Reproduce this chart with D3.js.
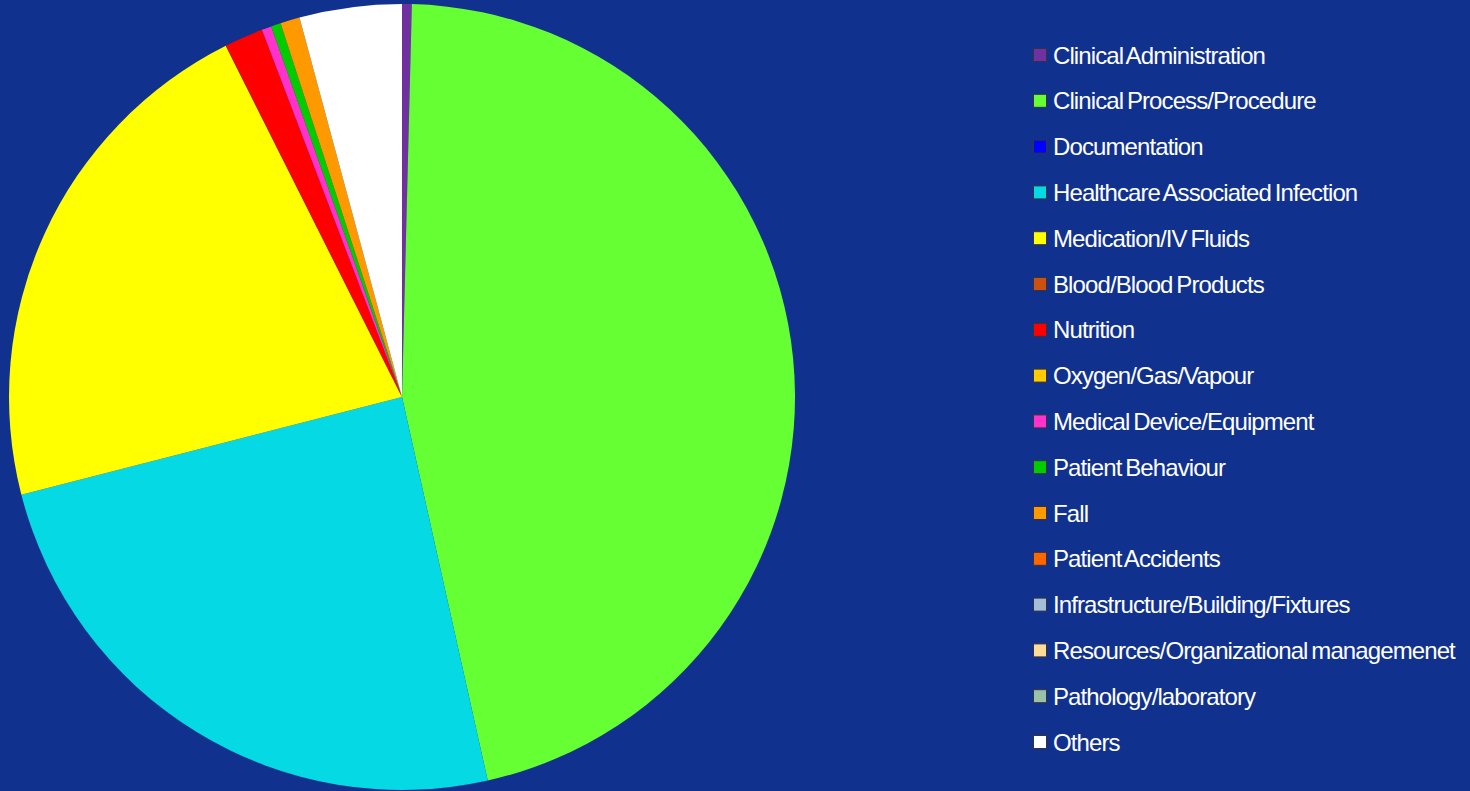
<!DOCTYPE html>
<html>
<head>
<meta charset="utf-8">
<script src="https://cdn.jsdelivr.net/npm/d3@7"></script>
<style>
  html, body { margin: 0; padding: 0; background: #11318f; }
  svg { display: block; }
  .legend text { font-family: "Liberation Sans", Arial, sans-serif; font-size: 24px; fill: #ffffff; letter-spacing: -0.9px; word-spacing: -2px; }
</style>
</head>
<body>
<svg id="chart" width="1470" height="791"></svg>
<script>
const categories = [
  "Clinical Administration",
  "Clinical Process/Procedure",
  "Documentation",
  "Healthcare Associated Infection",
  "Medication/IV Fluids",
  "Blood/Blood Products",
  "Nutrition",
  "Oxygen/Gas/Vapour",
  "Medical Device/Equipment",
  "Patient Behaviour",
  "Fall",
  "Patient Accidents",
  "Infrastructure/Building/Fixtures",
  "Resources/Organizational managemenet",
  "Pathology/laboratory",
  "Others"
];
const values = [0.4, 46.1, 0, 24.5, 21.6, 0, 1.6, 0, 0.4, 0.4, 0.8, 0, 0, 0, 0, 4.2];
const colors = [
  "#7030a0", "#66ff33", "#0000ff", "#05d9e3", "#ffff00", "#cc5010",
  "#ff0000", "#ffcc00", "#ff33cc", "#00cc00", "#ff9900", "#ff6600",
  "#a6bfd9", "#ffdd99", "#99c2a8", "#ffffff"
];

const svg = d3.select("#chart");
const cx = 402, cy = 397, radius = 393;

const data = categories.map((c, i) => ({ name: c, value: values[i], color: colors[i] }));
const color = d3.scaleOrdinal().domain(categories).range(colors);

const pie = d3.pie().sort(null).value(d => d.value).startAngle(0).endAngle(2 * Math.PI);
const arc = d3.arc().innerRadius(0).outerRadius(radius);

svg.append("g")
  .attr("transform", `translate(${cx},${cy})`)
  .selectAll("path")
  .data(pie(data).filter(d => d.data.value > 0))
  .join("path")
  .attr("d", arc)
  .attr("fill", d => color(d.data.name));

const legendY = d3.scalePoint().domain(categories).range([55, 742]);
const lg = svg.append("g").attr("class", "legend");
const rows = lg.selectAll("g").data(categories).join("g")
  .attr("transform", d => `translate(1033,${legendY(d)})`);
rows.append("rect")
  .attr("x", 0.5).attr("y", -6.5).attr("width", 13).attr("height", 13)
  .attr("fill", d => color(d))
  .attr("stroke", "#333344").attr("stroke-width", 1);
rows.append("text")
  .attr("x", 20).attr("y", 8.5)
  .text(d => d);
</script>
</body>
</html>
